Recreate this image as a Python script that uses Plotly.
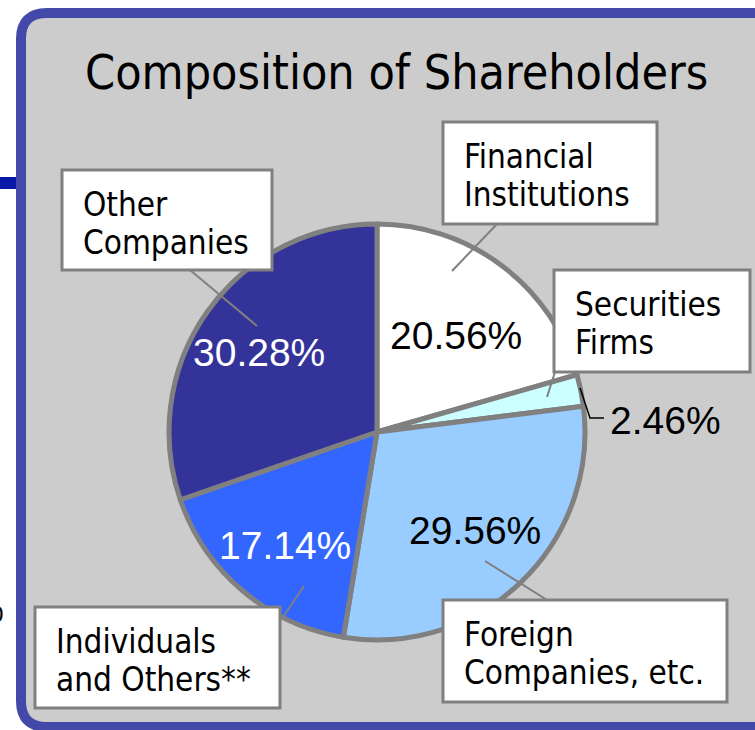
import plotly.graph_objects as go

# ---- data ----
categories = ["Financial Institutions", "Securities Firms", "Foreign Companies, etc.",
              "Individuals and Others**", "Other Companies"]
box_lines = [["Financial", "Institutions"], ["Securities", "Firms"], ["Foreign", "Companies, etc."],
             ["Individuals", "and Others**"], ["Other", "Companies"]]
shares = [20.56, 2.46, 29.56, 17.14, 30.28]
colors = ["#ffffff", "#ccffff", "#99ccff", "#3366ff", "#333399"]
pct_colors = ["black", "black", "black", "white", "white"]

W, H = 755, 730
GRAY = "#808080"

fig = go.Figure()

# pie: centre (377,432), radius ~208 px
cx, cy, r = 377, 432, 208
fig.add_trace(go.Pie(
    labels=categories, values=shares, sort=False, direction="clockwise", rotation=0,
    marker=dict(colors=colors, line=dict(color=GRAY, width=5)),
    textinfo="none", hoverinfo="label+percent", showlegend=False,
    domain=dict(x=[(cx - r) / W, (cx + r) / W], y=[1 - (cy + r) / H, 1 - (cy - r) / H]),
))

# invisible pixel axes for shapes
fig.update_xaxes(range=[0, W], visible=False, domain=[0, 1], fixedrange=True)
fig.update_yaxes(range=[H, 0], visible=False, domain=[0, 1], fixedrange=True)

shapes = []
# left dark-blue bar
shapes.append(dict(type="rect", xref="x", yref="y", x0=0, x1=18, y0=177, y1=189,
                   fillcolor="#0a18a8", line=dict(width=0), layer="below"))
# panel with rounded corner
def rounded(x0, y0, x1, y1, rad):
    return (f"M {x0+rad},{y0} L {x1},{y0} L {x1},{y1} L {x0+rad},{y1} "
            f"Q {x0},{y1} {x0},{y1-rad} L {x0},{y0+rad} Q {x0},{y0} {x0+rad},{y0} Z")
shapes.append(dict(type="path", xref="x", yref="y", path=rounded(21, 13, 770, 727, 26),
                   fillcolor="#cccccc", line=dict(color="#4349a9", width=10), layer="below"))

# label boxes (x0, y0, x1, y1) in category order
boxes = [(443, 122, 657, 224), (554, 270, 750, 372), (443, 600, 727, 702),
         (35, 607, 280, 708), (62, 170, 272, 270)]
for (x0, y0, x1, y1) in boxes:
    shapes.append(dict(type="rect", xref="x", yref="y", x0=x0, x1=x1, y0=y0, y1=y1,
                       fillcolor="white", line=dict(color=GRAY, width=3), layer="above"))

# leader lines
leaders = [((452, 271), (497, 224)), ((547, 397), (555, 372)), ((485, 561), (547, 600)),
           ((304, 586), (281, 620)), ((257, 326), (190, 270))]
for (a, b) in leaders:
    shapes.append(dict(type="line", xref="x", yref="y", x0=a[0], y0=a[1], x1=b[0], y1=b[1],
                       line=dict(color=GRAY, width=2), layer="above"))
# outside leader for securities %
shapes.append(dict(type="path", xref="x", yref="y", path="M 580,388 L 590,418 L 604,418",
                   line=dict(color="black", width=1.5), layer="above"))
fig.update_layout(shapes=shapes)

ann = []
ann.append(dict(text="Composition of Shareholders", x=396, y=72, xref="x", yref="y",
                showarrow=False, font=dict(family="DejaVu Sans Condensed", size=48, color="black")))
for lines, (x0, y0, x1, y1) in zip(box_lines, boxes):
    for i, ln in enumerate(lines):
        ann.append(dict(text=ln, x=x0 + 19, y=y0 + 34 + 38 * i, xref="x", yref="y",
                        xanchor="left", yanchor="middle", align="left", showarrow=False,
                        font=dict(family="DejaVu Sans Condensed", size=33, color="black")))
pct_pos = [(456, 335), (665, 420), (475, 530), (285, 545), (259, 352)]
for v, (px, py), c in zip(shares, pct_pos, pct_colors):
    ann.append(dict(text=f"{v:.2f}%", x=px, y=py, xref="x", yref="y", showarrow=False,
                    font=dict(family="Liberation Sans", size=39, color=c)))
# stray glyph at left edge (partly cut off)
ann.append(dict(text="0", x=6 / W, y=1 - 614 / H, xref="paper", yref="paper",
                xanchor="right", yanchor="middle", showarrow=False,
                font=dict(family="DejaVu Sans", size=22, color="black")))
fig.update_layout(annotations=ann)

fig.update_layout(width=W, height=H, margin=dict(l=0, r=0, t=0, b=0),
                  paper_bgcolor="white", plot_bgcolor="rgba(0,0,0,0)")
fig.write_html("out.html", config={"displayModeBar": False},
               post_script="document.body.style.margin='0';")
